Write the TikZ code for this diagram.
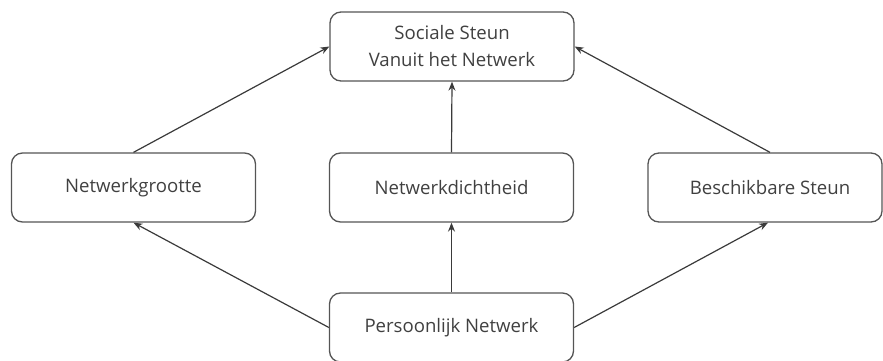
\documentclass[tikz,border=0pt]{standalone}
\usepackage{fontspec}
\setmainfont{Open Sans}
\usetikzlibrary{arrows.meta}
\definecolor{txt}{HTML}{404040}
\definecolor{edge}{HTML}{555555}
\definecolor{arr}{HTML}{3A3A3A}
\begin{document}
\begin{tikzpicture}[x=1pt,y=-1pt,
  box/.style={draw=edge, line width=1.3pt, rounded corners=11pt, minimum width=244pt, minimum height=69pt, inner sep=0pt, text=txt, font=\fontsize{18.6}{27}\selectfont, align=center},
  link/.style={draw=arr, line width=1.2pt, -{Stealth[length=9pt,width=7pt]}}]
\useasboundingbox (0,0) rectangle (883,360);
\node[box] (top) at (452,46.5) {Sociale Steun\\Vanuit het Netwerk};
\node[box] (left) at (133.5,187.5) {Netwerkgrootte};
\node[box] (mid) at (451.5,187.5) {Netwerkdichtheid};
\node[box, minimum width=234pt] (right) at (765,187.5) {\hspace*{10pt}Beschikbare Steun};
\node[box] (bot) at (451.5,327.5) {Persoonlijk Netwerk};
\draw[link] (left.north) -- (top.west);
\draw[link] (mid.north) -- (top.south);
\draw[link] ([xshift=5pt]right.north) -- (top.east);
\draw[link] (bot.west) -- (left.south);
\draw[link] (bot.north) -- (mid.south);
\draw[link] (bot.east) -- ([xshift=3pt]right.south);
\end{tikzpicture}
\end{document}
